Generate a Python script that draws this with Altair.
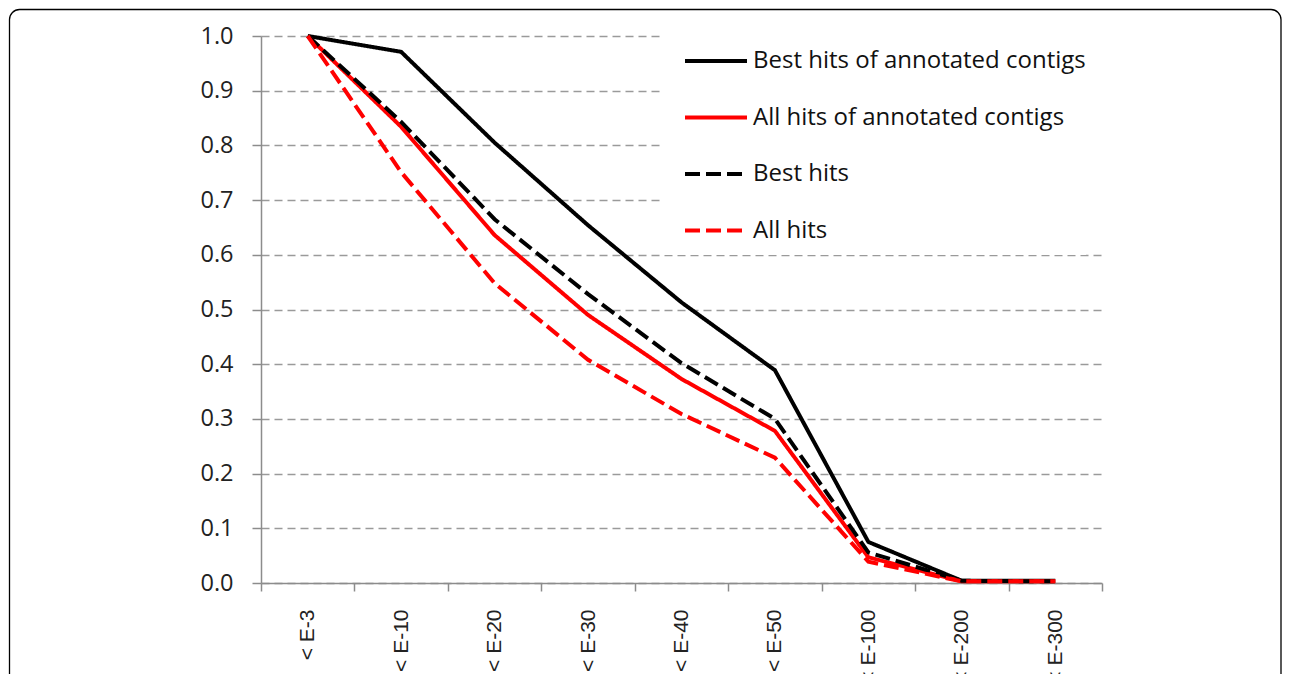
import altair as alt
import pandas as pd

categories = ["< E-3", "< E-10", "< E-20", "< E-30", "< E-40", "< E-50", "< E-100", "< E-200", "< E-300"]
series_names = ["Best hits of annotated contigs", "All hits of annotated contigs", "Best hits", "All hits"]
best_annot = [1.0, 0.971, 0.805, 0.654, 0.513, 0.389, 0.075, 0.004, 0.004]
all_annot = [1.0, 0.834, 0.636, 0.49, 0.373, 0.278, 0.047, 0.003, 0.003]
best_hits = [1.0, 0.843, 0.665, 0.528, 0.402, 0.3, 0.056, 0.004, 0.003]
all_hits = [1.0, 0.751, 0.548, 0.408, 0.309, 0.229, 0.039, 0.003, 0.003]
y_ticks = [0.0, 0.1, 0.2, 0.3, 0.4, 0.5, 0.6, 0.7, 0.8, 0.9, 1.0]
colors = ["#000000", "#ff0000", "#000000", "#ff0000"]
dashes = [[1, 0], [1, 0], [15, 6], [15, 6]]

values = [best_annot, all_annot, best_hits, all_hits]
rows = []
for name, vals in zip(series_names, values):
    for c, v in zip(categories, vals):
        rows.append({"category": c, "value": v, "series": name})
df = pd.DataFrame(rows)

legend = alt.Legend(
    title=None, orient="none", legendX=401, legendY=1,
    symbolType="stroke", symbolSize=3844, symbolStrokeWidth=4,
    clipHeight=48, rowPadding=8.5, padding=0, symbolOffset=21,
    labelOffset=4, labelFont="Open Sans", labelFontSize=24, labelColor="#111111",
    labelLimit=500, fillColor="white",
)

color_enc = alt.Color("series:N", scale=alt.Scale(domain=series_names, range=colors), legend=legend)
dash_enc = alt.StrokeDash("series:N", scale=alt.Scale(domain=series_names, range=dashes), legend=legend)

x_enc = alt.X("category:N", sort=categories, scale=alt.Scale(domain=categories, paddingInner=0, paddingOuter=0),
              axis=alt.Axis(title=None, labelAngle=-90, tickBand="extent", tickSize=8, labelPadding=18,
                            labelFont="Liberation Sans", labelFontSize=21, labelColor="#222222",
                            domainColor="#8c8c8c", domainWidth=1.5, tickColor="#8c8c8c", tickWidth=1.5,
                            grid=False))
y_enc = alt.Y("value:Q", scale=alt.Scale(domain=[0, 1]),
              axis=alt.Axis(title=None, values=y_ticks, format=".1f", tickSize=9, labelPadding=19,
                            labelFont="Open Sans", labelFontSize=23.5, labelColor="#222222",
                            domainColor="#8c8c8c", domainWidth=1.5, tickColor="#8c8c8c", tickWidth=1.5,
                            grid=True, gridColor="#9a9a9a", gridDash=[8, 5], gridWidth=1.5))

layers = []
for name in series_names:
    layers.append(
        alt.Chart(df).transform_filter(alt.datum.series == name)
        .mark_line(strokeWidth=4, strokeCap="butt", strokeJoin="miter")
        .encode(x=x_enc, y=y_enc, color=color_enc, strokeDash=dash_enc)
    )

one = pd.DataFrame({"a": [0]})
frame = alt.Chart(one).mark_rect(
    filled=False, stroke="black", strokeWidth=1.3, cornerRadius=10
).encode(x=alt.value(-251.5), x2=alt.value(1020), y=alt.value(-26.5), y2=alt.value(800))

legend_bg = alt.Chart(one).mark_rect(fill="white", stroke=None).encode(
    x=alt.value(401), x2=alt.value(842), y=alt.value(-3), y2=alt.value(214)
)

chart = alt.layer(frame, legend_bg, *layers).properties(
    width=841, height=547,
    padding={"left": 253, "top": 28, "right": 180, "bottom": 91},
    autosize=alt.AutoSizeParams(type="none"),
    background="white",
).configure_view(stroke=None)

chart.save("out.html", embed_options={"renderer": "svg", "actions": False})
